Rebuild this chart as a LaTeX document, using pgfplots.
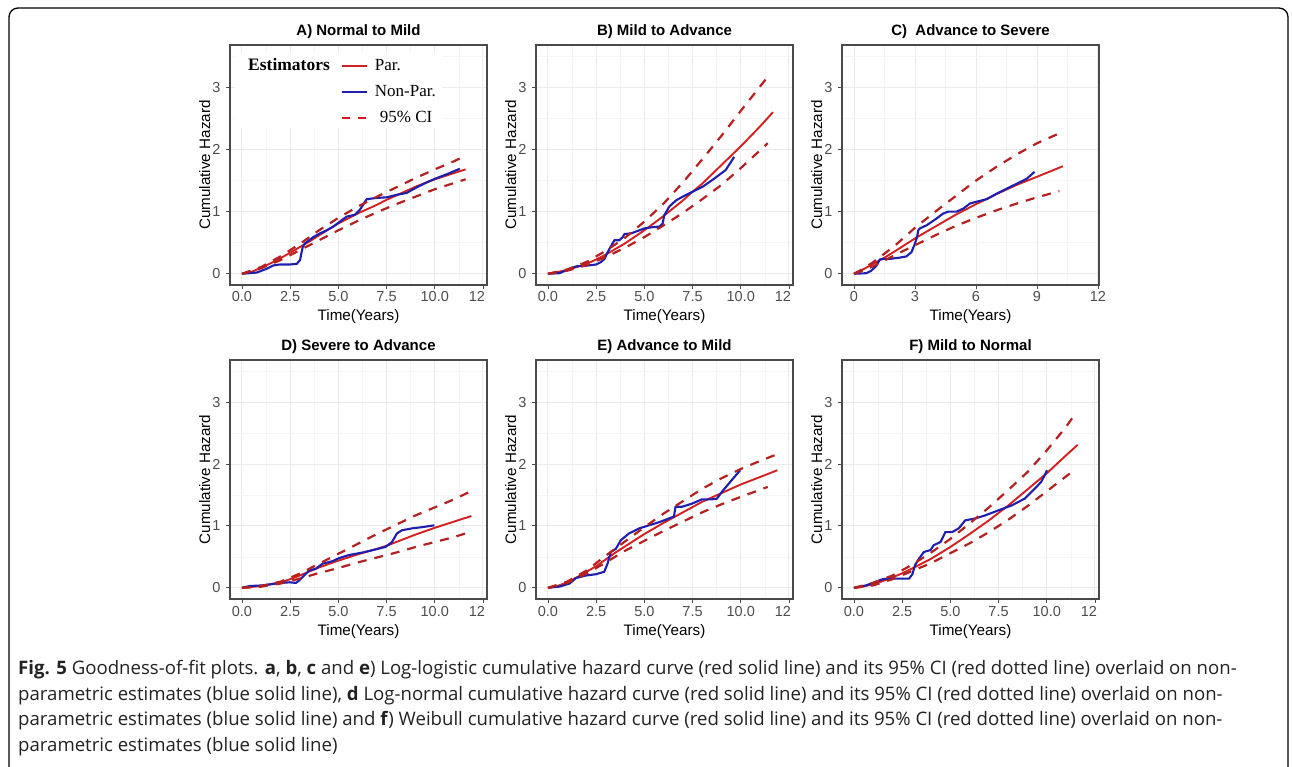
\documentclass[border=0pt]{standalone}
\usepackage{fontspec}
\setmainfont{Liberation Sans}
\newfontfamily\legfont{Liberation Serif}
\newfontfamily\capfont{Open Sans}
\usepackage{pgfplots}
\pgfplotsset{compat=1.18}
\definecolor{parred}{HTML}{D42020}
\definecolor{cired}{HTML}{B52020}
\definecolor{legred}{HTML}{E01515}
\definecolor{npblue}{HTML}{1E1EB0}
\definecolor{gridmaj}{HTML}{EBEBEB}
\definecolor{gridmin}{HTML}{F5F5F5}
\definecolor{tickgray}{HTML}{4D4D4D}
\definecolor{bordergray}{HTML}{4A4A4A}
\definecolor{captext}{HTML}{222222}
\pgfplotsset{
  panel/.style={
    scale only axis, width=257pt, height=240pt,
    xmin=-0.62, xmax=12.71, ymin=-0.18, ymax=3.68,
    xtick={0,2.5,5,7.5,10,12.5},
    xticklabels={0.0,2.5,5.0,7.5,10.0,12\phantom{.5}},
    minor xtick={1.25,3.75,6.25,8.75,11.25},
    ytick={0,1,2,3}, minor ytick={0.5,1.5,2.5,3.5},
    /pgf/number format/assume math mode=true,
    grid=both,
    major grid style={gridmaj, line width=1pt},
    minor grid style={gridmin, line width=0.6pt},
    axis line style={bordergray, line width=1.1pt},
    tick align=outside, tick pos=left,
    major tick length=4pt, minor tick length=0pt,
    major tick style={bordergray, line width=0.9pt},
    ticklabel style={font=\fontsize{14.5}{15}\selectfont, text=tickgray},
    xticklabel style={anchor=base, yshift=-13pt},
    yticklabel style={anchor=east, xshift=-2pt},
    xlabel={Time(Years)}, ylabel={Cumulative Hazard},
    every axis x label/.style={at={(axis description cs:0.5,0)}, anchor=base, yshift=-36pt, font=\fontsize{15.2}{16}\selectfont},
    every axis y label/.style={at={(axis description cs:0,0.5)}, xshift=-20pt, rotate=90, anchor=base, font=\fontsize{15.2}{16}\selectfont},
    every axis title/.style={at={(axis description cs:0.5,1)}, anchor=base, yshift=9.5pt, font=\bfseries\fontsize{15}{16}\selectfont},
  },
  par/.style={parred, line width=1.9pt, forget plot},
  np/.style={npblue, line width=2.1pt, forget plot},
  ci/.style={cired, line width=2.2pt, dash pattern=on 9pt off 8pt, forget plot},
}
\begin{document}
\begin{tikzpicture}
\useasboundingbox (0pt,0pt) rectangle (1292pt,766pt);
\begin{scope}
\clip (0pt,0pt) rectangle (1292pt,766pt);
\draw[line width=1.3pt, rounded corners=9pt] (9pt,-30pt) rectangle (1288pt,758pt);
\end{scope}

% ---------- A ----------
\begin{axis}[panel, at={(230pt,481pt)}, anchor=south west, title={A) Normal to Mild},
  legend style={at={(rel axis cs:0.43,0.95)}, anchor=north west, fill=white, draw=none,
    inner sep=0pt, row sep=8pt, font=\legfont\fontsize{17}{18}\selectfont,
    nodes={inner sep=0pt, text height=13pt, text depth=5pt},
    /tikz/every odd column/.append style={column sep=7pt}},
  legend cell align=left,
  legend image code/.code={\draw[#1] (0pt,0pt) -- (25pt,0pt);}]
\addplot[par] coordinates {(0,0) (0.5,0.03) (1,0.1) (1.5,0.17) (2,0.25) (2.5,0.34) (3,0.43) (3.5,0.52) (4,0.62) (5,0.81) (6,0.97) (7,1.11) (7.5,1.19) (8,1.26) (9,1.40) (10,1.52) (11,1.62) (11.6,1.68)};
\addplot[np] coordinates {(0,0) (0.76,0.02) (1.28,0.08) (1.63,0.135) (1.97,0.15) (2.49,0.15) (2.84,0.16) (3.01,0.22) (3.15,0.43) (3.27,0.49) (3.7,0.59) (4.05,0.65) (4.39,0.70) (4.74,0.76) (5.08,0.84) (5.43,0.92) (5.86,0.95) (6.12,1.03) (6.38,1.16) (6.47,1.2) (6.98,1.22) (7.5,1.23) (8.02,1.27) (8.54,1.30) (9.06,1.39) (9.58,1.47) (10.1,1.54) (10.62,1.60) (11.3,1.69)};
\addplot[ci] coordinates {(0,0) (1,0.11) (2,0.28) (3,0.48) (4,0.7) (5,0.9) (6,1.08) (7,1.24) (8,1.39) (9,1.54) (10,1.68) (11,1.81) (11.6,1.9)};
\addplot[ci] coordinates {(0,0) (1,0.09) (2,0.22) (3,0.38) (4,0.54) (5,0.7) (6,0.85) (7,0.99) (8,1.12) (9,1.24) (10,1.36) (11,1.46) (11.6,1.52)};
\fill[white] (rel axis cs:0.0195,0.654) rectangle (rel axis cs:0.825,0.967);
\node[font=\legfont\bfseries\fontsize{17.5}{18}\selectfont, anchor=base west, inner sep=0pt] at (rel axis cs:0.070,0.892) {Estimators};
\addlegendimage{parred, line width=1.9pt}
\addlegendentry{Par.}
\addlegendimage{npblue, line width=2.1pt}
\addlegendentry{Non-Par.}
\addlegendimage{legred, line width=2.2pt, dash pattern=on 8pt off 8pt}
\addlegendentry{\hspace{5pt}95\% CI}
\end{axis}

% ---------- B ----------
\begin{axis}[panel, at={(536pt,481pt)}, anchor=south west, title={B) Mild to Advance}]
\addplot[par] coordinates {(0,0) (1,0.06) (2,0.16) (2.5,0.23) (3,0.31) (4,0.49) (5,0.7) (6,0.93) (7,1.18) (7.5,1.32) (8,1.45) (9,1.75) (10,2.05) (11,2.37) (11.67,2.6)};
\addplot[np] coordinates {(0,0) (0.6,0.01) (1.12,0.08) (1.47,0.12) (1.98,0.13) (2.5,0.15) (2.76,0.19) (2.93,0.24) (3.1,0.35) (3.33,0.48) (3.45,0.54) (3.7,0.54) (3.88,0.59) (3.97,0.64) (4.31,0.65) (4.66,0.69) (5.0,0.73) (5.43,0.75) (5.78,0.76) (5.95,0.81) (6.03,0.94) (6.29,1.08) (6.64,1.18) (6.98,1.24) (7.5,1.32) (8.02,1.40) (8.53,1.51) (8.88,1.59) (9.22,1.67) (9.66,1.88)};
\addplot[ci] coordinates {(0,0) (1,0.07) (2,0.19) (3,0.37) (4,0.58) (5,0.84) (6,1.13) (7,1.47) (8,1.84) (9,2.22) (10,2.62) (11.4,3.17)};
\addplot[ci] coordinates {(0,0) (1,0.05) (2,0.14) (3,0.27) (4,0.42) (5,0.59) (6,0.78) (7,0.98) (8,1.2) (9,1.43) (10,1.7) (11.4,2.1)};
\end{axis}

% ---------- C ----------
\begin{axis}[panel, at={(842pt,481pt)}, anchor=south west, title={C)\ \ Advance to Severe},
  xmin=-0.59, xmax=12.05, xtick={0,3,6,9,12}, xticklabels={0,3,6,9,12}, minor xtick={1.5,4.5,7.5,10.5}]
\addplot[par] coordinates {(0,0) (0.5,0.08) (1,0.17) (1.5,0.26) (2,0.36) (3,0.57) (4,0.76) (5,0.95) (6,1.12) (7,1.28) (8,1.43) (9,1.56) (10.27,1.73)};
\addplot[np] coordinates {(0,0) (0.61,0.01) (0.85,0.05) (1.1,0.13) (1.27,0.23) (1.43,0.24) (1.76,0.24) (2.25,0.26) (2.58,0.28) (2.83,0.35) (2.99,0.48) (3.1,0.59) (3.16,0.70) (3.24,0.73) (3.57,0.78) (4.06,0.89) (4.39,0.97) (4.64,1.0) (5.05,1.0) (5.38,1.05) (5.7,1.13) (6.03,1.16) (6.53,1.2) (7.02,1.29) (7.51,1.37) (8.01,1.45) (8.5,1.53) (8.88,1.64)};
\addplot[ci] coordinates {(0,0) (0.5,0.09) (1,0.2) (2,0.45) (3,0.74) (4,1.0) (5,1.25) (6,1.5) (7,1.72) (8,1.92) (9,2.1) (10.1,2.26)};
\addplot[ci] coordinates {(0,0) (0.5,0.06) (1,0.13) (2,0.3) (3,0.46) (4,0.62) (5,0.77) (6,0.9) (7,1.02) (8,1.13) (9,1.23) (10.1,1.33)};
\end{axis}

% ---------- D ----------
\begin{axis}[panel, at={(230pt,167pt)}, anchor=south west, height=239pt, title={D) Severe to Advance}]
\addplot[par] coordinates {(0,0) (1,0.03) (2,0.09) (2.5,0.14) (3,0.2) (4,0.33) (5,0.44) (6,0.54) (7,0.63) (7.5,0.68) (8,0.74) (9,0.86) (10,0.97) (11,1.07) (11.9,1.16)};
\addplot[np] coordinates {(0,0) (0.4,0.03) (1.08,0.04) (1.77,0.07) (2.46,0.09) (2.8,0.08) (2.97,0.12) (3.23,0.2) (3.49,0.28) (3.83,0.31) (4.18,0.39) (4.69,0.43) (5.03,0.48) (5.55,0.53) (6.24,0.57) (6.92,0.62) (7.44,0.66) (7.78,0.74) (8.04,0.88) (8.3,0.93) (8.81,0.96) (9.33,0.98) (9.98,1.01)};
\addplot[ci] coordinates {(0,0) (1,0.03) (2,0.1) (3,0.23) (4,0.39) (5,0.55) (6,0.71) (7,0.87) (8,1.02) (9,1.17) (10,1.3) (11,1.43) (11.8,1.55)};
\addplot[ci] coordinates {(0,0) (1,0.02) (2,0.07) (3,0.15) (4,0.24) (5,0.32) (6,0.41) (7,0.49) (8,0.57) (9,0.66) (10,0.74) (11,0.82) (11.6,0.88)};
\end{axis}

% ---------- E ----------
\begin{axis}[panel, at={(536pt,167pt)}, anchor=south west, height=239pt, title={E) Advance to Mild}]
\addplot[par] coordinates {(0,0) (0.5,0.03) (1,0.09) (1.5,0.17) (2,0.26) (2.5,0.35) (3,0.46) (3.5,0.57) (4,0.67) (5,0.87) (6,1.05) (7,1.22) (8,1.39) (9,1.53) (10,1.67) (11,1.79) (11.9,1.9)};
\addplot[np] coordinates {(0,0) (0.6,0.02) (1.12,0.07) (1.46,0.16) (1.98,0.2) (2.49,0.22) (2.92,0.26) (3.09,0.39) (3.26,0.58) (3.52,0.63) (3.78,0.77) (4.21,0.88) (4.73,0.96) (5.24,1.01) (5.76,1.06) (6.27,1.12) (6.53,1.15) (6.62,1.31) (6.96,1.31) (7.47,1.36) (7.99,1.43) (8.51,1.43) (8.76,1.44) (9.02,1.55) (9.45,1.71) (9.97,1.90)};
\addplot[ci] coordinates {(0,0) (1,0.1) (2,0.28) (3,0.52) (4,0.75) (5,0.98) (6,1.2) (7,1.4) (8,1.6) (9,1.77) (10,1.92) (11,2.05) (11.9,2.16)};
\addplot[ci] coordinates {(0,0) (1,0.08) (2,0.23) (3,0.41) (4,0.6) (5,0.76) (6,0.92) (7,1.07) (8,1.22) (9,1.35) (10,1.47) (11.4,1.63)};
\end{axis}

% ---------- F ----------
\begin{axis}[panel, at={(842pt,167pt)}, anchor=south west, height=239pt, title={F) Mild to Normal}]
\addplot[par] coordinates {(0,0) (0.5,0.021) (1,0.06) (1.5,0.11) (2,0.169) (2.5,0.235) (3,0.31) (4,0.47) (5,0.66) (6,0.87) (7,1.09) (8,1.33) (9,1.59) (10,1.85) (11,2.14) (11.6,2.31)};
\addplot[np] coordinates {(0,0) (0.63,0.04) (1.15,0.1) (1.49,0.14) (1.83,0.15) (2.35,0.15) (2.86,0.15) (3.03,0.22) (3.17,0.37) (3.37,0.47) (3.63,0.58) (3.97,0.61) (4.14,0.69) (4.49,0.74) (4.74,0.9) (5.09,0.9) (5.43,0.96) (5.77,1.09) (6.28,1.12) (6.8,1.17) (7.48,1.25) (8.17,1.33) (8.85,1.44) (9.37,1.6) (9.71,1.71) (10.02,1.9)};
\addplot[ci] coordinates {(0,0) (1,0.08) (2,0.2) (3,0.37) (4,0.57) (5,0.79) (6,1.04) (7,1.3) (8,1.58) (9,1.87) (10,2.22) (11,2.6) (11.5,2.82)};
\addplot[ci] coordinates {(0,0) (1,0.04) (2,0.14) (3,0.27) (4,0.4) (5,0.56) (6,0.72) (7,0.9) (8,1.1) (9,1.32) (10,1.56) (11,1.8) (11.5,1.92)};
\end{axis}

% ---------- caption ----------
\begin{scope}[every node/.style={anchor=base west, inner sep=0pt, text=captext, font=\capfont\fontsize{18.6}{20}\selectfont}]
\node at (18pt,92pt) {\textbf{Fig. 5} Goodness-of-fit plots. \textbf{a}, \textbf{b}, \textbf{c} and \textbf{e}) Log-logistic cumulative hazard curve (red solid line) and its 95\% CI (red dotted line) overlaid on non-};
\node at (18pt,66pt) {parametric estimates (blue solid line), \textbf{d} Log-normal cumulative hazard curve (red solid line) and its 95\% CI (red dotted line) overlaid on non-};
\node at (18pt,41pt) {parametric estimates (blue solid line) and \textbf{f}) Weibull cumulative hazard curve (red solid line) and its 95\% CI (red dotted line) overlaid on non-};
\node at (18pt,15pt) {parametric estimates (blue solid line)};
\end{scope}
\end{tikzpicture}
\end{document}
